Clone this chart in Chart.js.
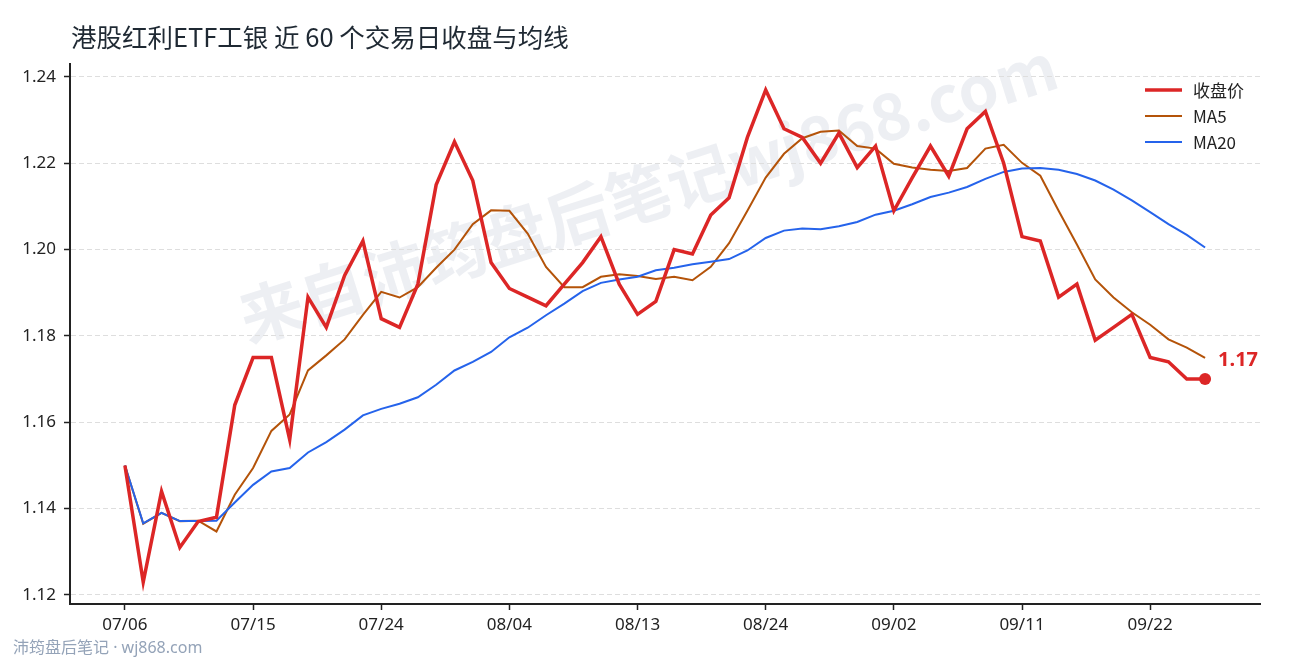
<!DOCTYPE html>
<html>
<head>
<meta charset="utf-8">
<script src="https://cdn.jsdelivr.net/npm/chart.js@4.4.1/dist/chart.umd.min.js"></script>
<style>
html,body{margin:0;padding:0;background:#fff;}
canvas{display:block;}
</style>
</head>
<body>
<canvas id="c" width="1290" height="660"></canvas>
<script>
const titleText = '港股红利ETF工银 近 60 个交易日收盘与均线';
const footerText = '沛筠盘后笔记 · wj868.com';
const watermarkText = '来自沛筠盘后笔记wj868.com';

const dates = ['07/06','07/07','07/08','07/09','07/10','07/13','07/14','07/15','07/16','07/17',
  '07/20','07/21','07/22','07/23','07/24','07/27','07/28','07/29','07/30','07/31',
  '08/03','08/04','08/05','08/06','08/07','08/10','08/11','08/12','08/13','08/14',
  '08/17','08/18','08/19','08/20','08/21','08/24','08/25','08/26','08/27','08/28',
  '08/31','09/01','09/02','09/03','09/04','09/07','09/08','09/09','09/10','09/11',
  '09/14','09/15','09/16','09/17','09/18','09/21','09/22','09/23','09/24','09/25'];

const closePrice = [1.150,1.123,1.144,1.131,1.137,1.138,1.164,1.175,1.175,1.156,
  1.189,1.182,1.194,1.202,1.184,1.182,1.192,1.215,1.225,1.216,
  1.197,1.191,1.189,1.187,1.192,1.197,1.203,1.192,1.185,1.188,
  1.200,1.199,1.208,1.212,1.226,1.237,1.228,1.226,1.220,1.227,
  1.219,1.224,1.209,1.2166,1.224,1.217,1.228,1.232,1.220,1.203,
  1.202,1.189,1.192,1.179,1.182,1.185,1.175,1.174,1.170,1.170];

const ma5 = [1.150,1.1365,1.139,1.1371,1.1372,1.1347,1.1432,1.1494,1.158,1.1618,
  1.172,1.1755,1.1792,1.1849,1.1902,1.1889,1.1913,1.1958,1.2,1.2059,
  1.2091,1.209,1.2037,1.196,1.1913,1.1913,1.1937,1.1943,1.1939,1.1932,
  1.1937,1.1929,1.196,1.2015,1.209,1.2167,1.2222,1.2258,1.2273,1.2276,
  1.224,1.2234,1.2199,1.219,1.2185,1.2182,1.2189,1.2234,1.2243,1.2201,
  1.2171,1.209,1.2012,1.1931,1.1889,1.1855,1.1826,1.1792,1.1773,1.1749];

const ma20 = [1.150,1.1366,1.139,1.1371,1.1371,1.1372,1.1414,1.1455,1.1486,1.1494,
  1.153,1.1554,1.1583,1.1616,1.1631,1.1643,1.1658,1.1687,1.172,1.174,
  1.1763,1.1797,1.1819,1.1848,1.1875,1.1904,1.1923,1.1931,1.1937,1.1952,
  1.1958,1.1966,1.1972,1.1978,1.1998,1.2027,1.2044,1.2049,1.2047,1.2054,
  1.2064,1.2081,1.209,1.2105,1.2122,1.2132,1.2145,1.2164,1.218,1.2188,
  1.2189,1.2185,1.2175,1.216,1.2139,1.2114,1.2087,1.2059,1.2034,1.2005];

const seriesLabels = ['收盘价','MA5','MA20'];
const xTickIndex = [0,7,14,21,28,35,42,49,56];
const yTickValues = [1.12,1.14,1.16,1.18,1.20,1.22,1.24];

const RED = '#dc2626', ORANGE = '#b45309', BLUE = '#2563eb';
const LATIN = '"Noto Sans","Noto Sans CJK SC",sans-serif';
const CJK = '"Noto Sans CJK SC","Noto Sans",sans-serif';

const toXY = arr => arr.map((v, i) => ({x: i, y: v}));
const lastIdx = closePrice.length - 1;

const decor = {
  id: 'decor',
  beforeDraw(chart) {
    const ctx = chart.ctx;
    ctx.save();
    ctx.fillStyle = '#ffffff';
    ctx.fillRect(0, 0, chart.width, chart.height);
    ctx.translate(648, 192);
    ctx.rotate(-17.5 * Math.PI / 180);
    ctx.font = 'bold 64px ' + CJK;
    ctx.fillStyle = 'rgba(148,163,184,0.17)';
    ctx.textAlign = 'center';
    ctx.textBaseline = 'middle';
    ctx.fillText(watermarkText, 0, 0);
    ctx.restore();
  },
  afterDraw(chart) {
    const ctx = chart.ctx;
    const xs = chart.scales.x, ys = chart.scales.y;
    ctx.save();
    ctx.font = '25.5px ' + CJK;
    ctx.fillStyle = '#1f2933';
    ctx.textAlign = 'left';
    ctx.textBaseline = 'middle';
    ctx.fillText(titleText, 71, 37);
    ctx.font = '16px ' + LATIN;
    ctx.fillStyle = '#94a3b8';
    ctx.fillText(footerText, 13, 648);
    const ds = chart.data.datasets;
    ds.forEach((d, k) => {
      const y = 90 + k * 26;
      ctx.beginPath();
      ctx.strokeStyle = d.borderColor;
      ctx.lineWidth = d.borderWidth;
      ctx.moveTo(1145, y);
      ctx.lineTo(1182, y);
      ctx.stroke();
      ctx.font = '17px ' + CJK;
      ctx.fillStyle = '#222222';
      ctx.textBaseline = 'middle';
      ctx.fillText(d.label, 1193, y + 1);
    });
    const px = xs.getPixelForValue(lastIdx);
    const py = ys.getPixelForValue(closePrice[lastIdx]);
    ctx.font = 'bold 20px ' + LATIN;
    ctx.fillStyle = RED;
    ctx.textBaseline = 'middle';
    ctx.fillText(closePrice[lastIdx].toFixed(2), px + 13, py - 19);
    ctx.restore();
  }
};

new Chart(document.getElementById('c'), {
  type: 'line',
  data: {
    datasets: [
      {label: seriesLabels[0], data: toXY(closePrice), borderColor: RED, backgroundColor: RED,
        borderWidth: 3.5, tension: 0, order: 0,
        pointRadius: c => c.dataIndex === lastIdx ? 6 : 0, pointBorderWidth: 0, pointHoverRadius: 0},
      {label: seriesLabels[1], data: toXY(ma5), borderColor: ORANGE, borderWidth: 2, tension: 0, pointRadius: 0, order: 2},
      {label: seriesLabels[2], data: toXY(ma20), borderColor: BLUE, borderWidth: 2, tension: 0, pointRadius: 0, order: 1}
    ]
  },
  options: {
    responsive: false,
    animation: false,
    devicePixelRatio: 1,
    layout: {padding: {top: 64, right: 30, left: 0, bottom: 0}},
    plugins: {legend: {display: false}, title: {display: false}, tooltip: {enabled: false}},
    scales: {
      x: {
        type: 'linear', min: -3, max: 62,
        afterBuildTicks: s => { s.ticks = xTickIndex.map(v => ({value: v})); },
        afterFit: s => { s.height = 56; },
        ticks: {callback: v => dates[v], color: '#222222', font: {family: LATIN, size: 17}, padding: 5, maxRotation: 0, autoSkip: false},
        grid: {display: true, drawOnChartArea: false, drawTicks: true, tickLength: 6, tickColor: '#222222', tickWidth: 1.5},
        border: {display: true, color: '#222222', width: 2}
      },
      y: {
        type: 'linear', min: 1.1179, max: 1.2430,
        afterBuildTicks: s => { s.ticks = yTickValues.map(v => ({value: v})); },
        afterFit: s => { s.width = 70; },
        ticks: {callback: v => v.toFixed(2), color: '#222222', font: {family: LATIN, size: 17}, padding: 8},
        grid: {display: true, drawOnChartArea: true, color: '#dedede', lineWidth: 1, drawTicks: true,
          tickLength: 6, tickColor: '#222222', tickWidth: 1.5, tickBorderDash: []},
        border: {display: true, color: '#222222', width: 2, dash: [5, 3]}
      }
    }
  },
  plugins: [decor]
});
</script>
</body>
</html>
